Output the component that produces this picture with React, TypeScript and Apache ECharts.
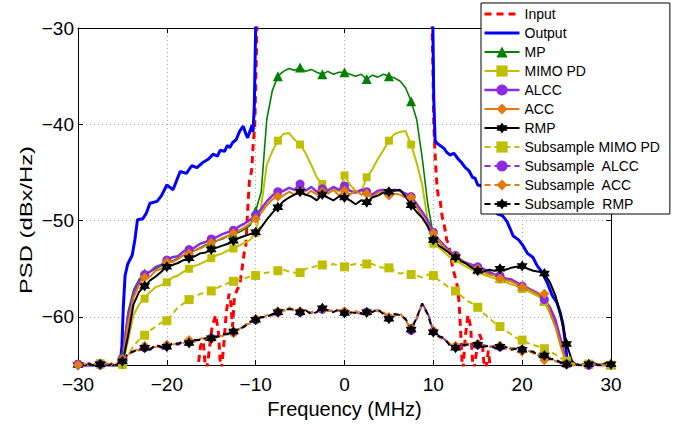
import { useEffect, useRef } from 'react';
import * as echarts from 'echarts';

// Common frequency grid (MHz) for the processed PSD curves
const freqs = [
  -30, -29.375, -28.75, -28.125, -27.5, -26.875, -26.25, -25.625,
  -25, -24.375, -23.75, -23.125, -22.5, -21.875, -21.25, -20.625,
  -20, -19.375, -18.75, -18.125, -17.5, -16.875, -16.25, -15.625,
  -15, -14.375, -13.75, -13.125, -12.5, -11.875, -11.25, -10.625,
  -10, -9.375, -8.75, -8.125, -7.5, -6.875, -6.25, -5.625,
  -5, -4.375, -3.75, -3.125, -2.5, -1.875, -1.25, -0.625,
  0, 0.625, 1.25, 1.875, 2.5, 3.125, 3.75, 4.375,
  5, 5.625, 6.25, 6.875, 7.5, 8.125, 8.75, 9.375,
  10, 10.625, 11.25, 11.875, 12.5, 13.125, 13.75, 14.375,
  15, 15.625, 16.25, 16.875, 17.5, 18.125, 18.75, 19.375,
  20, 20.625, 21.25, 21.875, 22.5, 23.125, 23.75, 24.375,
  25, 25.625, 26.25, 26.875, 27.5, 28.125, 28.75, 29.375,
  30,
];

const inputF = [-30, -16.6, -16.2, -15.9, -15.6, -15.3, -14.9, -14.5, -14.2, -13.9, -13.6, -13.3, -13.0, -12.8, -12.6, -12.4, -12.1, -11.8, -11.5, -11.3, -11.1, -10.9, -10.7, -10.45, -10.3, -10.1, -9.95, -9.8, -9.6, 0, 9.6, 9.8, 9.95, 10.05, 10.15, 10.25, 10.4, 10.55, 10.75, 11.0, 11.2, 11.5, 11.7, 12.0, 12.2, 12.5, 12.7, 12.9, 13.1, 13.3, 13.6, 13.9, 14.2, 14.5, 14.8, 15.2, 15.5, 15.8, 16.2, 16.5, 30];
const inputV = [-66, -66, -63, -62.5, -66, -64, -61, -59.8, -61.5, -66, -63, -59.5, -57.6, -58.5, -61, -58, -57.2, -56.7, -54.8, -53.4, -52.5, -48.9, -45.8, -44.8, -42.4, -40.1, -34, -27, -20, -20, -20, -27, -34, -40, -42.1, -44.1, -46.2, -47.5, -47.8, -49.6, -50.3, -52.0, -52.4, -54.0, -55.0, -56.0, -56.8, -58.5, -62, -66, -62, -59.8, -61, -66, -64, -61.8, -62.5, -66, -63.5, -66, -66];

const outputF = [-30, -27, -25.3, -25.06, -24.9, -24.7, -24.4, -23.9, -23.6, -23.3, -22.7, -22.3, -21.9, -21.1, -20.6, -20.0, -19.3, -18.5, -17.8, -17.2, -16.6, -16.0, -15.3, -14.8, -14.3, -14.0, -13.5, -13.2, -12.9, -12.6, -12.2, -11.8, -11.4, -11.1, -10.9, -10.6, -10.4, -10.3, -10.15, -10.0, -9.9, 0, 9.85, 9.95, 10.05, 10.2, 10.45, 10.75, 11.2, 11.5, 11.9, 12.3, 12.8, 13.2, 13.6, 14.0, 14.4, 14.7, 15.0, 15.5, 16.0, 16.6, 17.2, 17.8, 18.3, 19.0, 19.6, 20.1, 20.6, 21.2, 21.7, 22.2, 22.8, 23.4, 23.9, 24.3, 24.6, 24.9, 25.1, 25.4, 30];
const outputV = [-65.2, -65.3, -65.2, -63.1, -59, -55.7, -54.5, -53.6, -52, -49.9, -49.8, -49.2, -48.2, -48.0, -47.4, -46.3, -46.8, -44.9, -45.1, -44.3, -44.5, -44.0, -43.6, -43.1, -43.3, -42.7, -42.8, -42.2, -42.4, -41.9, -41.6, -40.7, -40.2, -41.0, -41.4, -40.6, -40.1, -40.8, -38, -30, -22, -20, -22, -30, -37.3, -41.7, -42.0, -42.2, -42.5, -42.9, -43.2, -43.0, -43.6, -44.0, -44.5, -44.8, -45.5, -45.6, -46.3, -46.4, -47.2, -48.0, -49.3, -49.5, -50.1, -51.6, -52.0, -52.6, -53.4, -53.8, -54.7, -55.3, -56.4, -57.8, -58.5, -59.6, -60.8, -63, -65, -65.4, -65.3];

const mpV = [
  -65.2, -65.0, -65.3, -64.9, -65.1, -65.2, -65.0, -65.1,
  -64.0, -59.5, -57.2, -56.1, -55.5, -55.3, -55.0, -54.7,
  -54.3, -54.2, -53.9, -53.6, -53.3, -53.1, -52.8, -52.5,
  -52.3, -52.1, -51.9, -51.6, -51.4, -51.2, -50.9, -50.5,
  -49.0, -47.0, -39.5, -36.5, -35.0, -34.5, -34.2, -34.4,
  -34.1, -34.5, -34.3, -34.6, -34.8, -34.5, -34.8, -34.6,
  -34.6, -34.8, -35.0, -34.8, -35.3, -34.9, -35.1, -34.8,
  -35.0, -35.2, -35.5, -36.2, -37.6, -39.5, -43.5, -48.3,
  -51.5, -52.2, -52.8, -53.3, -53.7, -54.2, -54.5, -54.8,
  -55.0, -55.3, -55.5, -55.7, -55.9, -56.1, -56.2, -56.5,
  -56.8, -57.1, -57.4, -57.7, -58.3, -59.4, -60.7, -62.8,
  -64.7, -65.0, -65.2, -64.9, -65.1, -65.0, -65.2, -65.1,
  -64.9,
];

const mimoV = [
  -65.3, -64.9, -65.1, -65.2, -64.8, -65.0, -65.3, -65.1,
  -65.0, -62.5, -59.8, -58.7, -58.1, -57.4, -56.9, -56.7,
  -56.4, -55.9, -55.7, -55.3, -55.0, -54.7, -54.5, -54.2,
  -53.9, -53.6, -53.4, -53.1, -52.9, -52.6, -52.3, -52.0,
  -51.3, -48.5, -44.2, -42.8, -41.7, -41.0, -40.9, -41.6,
  -42.1, -43.0, -44.2, -45.5, -46.2, -46.8, -46.6, -47.0,
  -45.3, -46.3, -46.9, -47.0, -45.5, -44.7, -43.6, -42.7,
  -41.7, -41.0, -40.8, -40.7, -42.1, -44.0, -46.3, -50.0,
  -52.4, -52.8, -53.3, -53.8, -54.0, -54.5, -54.8, -55.1,
  -55.2, -55.6, -55.8, -56.0, -56.1, -56.4, -56.6, -56.8,
  -57.1, -57.3, -57.6, -57.9, -58.4, -59.6, -61.0, -63.2,
  -64.9, -65.1, -65.3, -64.9, -65.0, -65.2, -65.0, -64.8,
  -65.1,
];

const alccV = [
  -64.9, -65.2, -64.8, -65.3, -65.0, -64.8, -65.2, -64.9,
  -64.3, -60.0, -57.6, -56.3, -55.6, -55.3, -54.8, -54.6,
  -54.1, -53.8, -53.7, -53.2, -53.0, -52.8, -52.4, -52.2,
  -51.9, -51.7, -51.4, -51.2, -51.0, -50.6, -50.3, -49.9,
  -49.4, -48.8, -48.0, -47.4, -47.0, -46.9, -46.6, -46.8,
  -46.2, -46.9, -46.5, -47.0, -46.7, -46.9, -46.5, -46.8,
  -46.4, -46.9, -47.1, -46.8, -47.0, -47.3, -46.9, -46.8,
  -47.1, -46.8, -46.9, -47.2, -47.5, -48.3, -49.1, -50.0,
  -51.2, -52.0, -52.6, -53.2, -53.6, -54.1, -54.4, -54.6,
  -54.8, -55.0, -55.3, -55.6, -55.7, -56.0, -56.1, -56.4,
  -56.8, -57.0, -57.3, -57.6, -58.2, -59.0, -60.3, -62.5,
  -64.8, -65.2, -64.9, -65.3, -65.0, -64.8, -65.2, -64.9,
  -65.1,
];

const accV = [
  -65.1, -64.8, -65.2, -64.9, -65.0, -65.3, -64.8, -65.1,
  -64.6, -60.8, -58.0, -56.7, -55.9, -55.8, -55.2, -55.0,
  -54.3, -54.3, -54.0, -53.6, -53.4, -53.1, -52.9, -52.6,
  -52.3, -52.1, -51.8, -51.6, -51.3, -51.0, -50.7, -50.3,
  -49.8, -49.2, -48.4, -47.8, -47.5, -47.4, -47.0, -47.3,
  -47.0, -47.4, -46.9, -47.3, -47.0, -47.2, -46.8, -47.4,
  -46.9, -47.3, -46.9, -47.3, -47.2, -47.6, -47.1, -47.0,
  -47.4, -47.2, -47.3, -47.6, -47.6, -48.6, -49.6, -50.4,
  -51.3, -52.1, -52.8, -53.3, -53.7, -54.1, -54.5, -54.8,
  -55.0, -55.3, -55.6, -55.7, -56.0, -56.2, -56.3, -56.6,
  -56.9, -57.1, -57.4, -57.7, -57.6, -59.5, -61.0, -63.0,
  -64.8, -65.0, -65.2, -64.9, -65.1, -65.3, -64.9, -65.0,
  -65.2,
];

const rmpV = [
  -65.0, -65.2, -64.9, -65.1, -64.9, -64.9, -65.1, -65.0,
  -64.8, -62.0, -58.7, -57.4, -56.8, -56.2, -55.8, -55.3,
  -54.8, -54.6, -54.4, -54.1, -53.9, -53.7, -53.4, -53.3,
  -53.0, -52.8, -52.6, -52.4, -52.1, -51.8, -51.6, -51.4,
  -51.2, -50.7, -49.9, -49.2, -48.6, -48.0, -47.6, -47.3,
  -47.0, -47.3, -47.5, -47.9, -47.3, -47.6, -47.9, -47.5,
  -47.6, -47.9, -48.3, -47.9, -48.1, -47.6, -47.4, -47.1,
  -47.0, -46.9, -46.8, -47.5, -48.4, -49.1, -49.7, -50.6,
  -52.0, -52.6, -53.0, -53.4, -53.8, -54.2, -54.5, -54.9,
  -55.2, -55.3, -55.1, -55.2, -55.0, -55.1, -54.9, -54.8,
  -54.7, -55.0, -55.2, -55.3, -55.5, -56.4, -57.8, -60.0,
  -62.8, -64.6, -65.1, -64.9, -65.2, -65.0, -65.1, -64.8,
  -65.2,
];

const subMimoV = [
  -65.1, -65.2, -64.9, -65.0, -64.9, -65.2, -65.0, -64.9,
  -64.8, -64.0, -63.0, -62.4, -61.9, -61.4, -61.0, -60.6,
  -60.4, -59.7, -59.0, -58.6, -58.2, -57.9, -57.6, -57.5,
  -57.3, -57.0, -56.7, -56.5, -56.3, -56.1, -56.0, -55.8,
  -55.7, -55.5, -55.4, -55.3, -55.2, -55.1, -55.3, -55.4,
  -55.4, -55.0, -54.9, -54.7, -54.6, -54.7, -54.5, -54.7,
  -54.8, -54.6, -54.5, -54.6, -54.5, -54.5, -54.8, -54.9,
  -54.9, -55.2, -55.5, -55.4, -55.6, -55.7, -55.9, -55.6,
  -55.7, -56.2, -56.6, -57.0, -57.3, -57.8, -58.3, -58.6,
  -59.0, -59.6, -60.1, -60.6, -61.0, -61.4, -61.8, -62.2,
  -62.4, -62.7, -62.9, -63.1, -63.3, -63.6, -63.9, -64.3,
  -64.6, -64.8, -64.9, -65.0, -64.9, -65.1, -65.0, -65.0,
  -65.0,
];

const subAlccV = [
  -64.9, -65.1, -64.8, -65.2, -64.9, -65.0, -65.2, -65.1,
  -64.5, -63.9, -63.5, -63.4, -63.2, -63.3, -63.0, -63.2,
  -63.0, -62.8, -62.9, -62.6, -62.6, -62.5, -62.3, -62.4,
  -62.2, -62.0, -61.9, -61.7, -61.6, -61.2, -60.9, -60.6,
  -60.3, -60.1, -59.9, -59.8, -59.5, -59.3, -59.1, -59.3,
  -59.5, -59.4, -59.6, -59.4, -59.2, -59.3, -59.4, -59.3,
  -59.5, -59.6, -59.5, -59.7, -59.5, -59.4, -59.3, -59.6,
  -60.1, -59.8, -59.7, -60.3, -61.4, -60.2, -58.6, -59.6,
  -61.5, -62.0, -62.3, -62.9, -63.1, -63.0, -62.8, -63.0,
  -62.9, -62.9, -63.1, -63.0, -63.1, -63.2, -63.3, -63.2,
  -63.4, -63.5, -63.7, -64.0, -64.1, -64.3, -64.5, -64.7,
  -64.9, -65.1, -64.9, -65.2, -65.0, -64.8, -65.1, -65.0,
  -65.2,
];

const subAccV = [
  -65.0, -64.8, -65.2, -64.9, -65.1, -64.8, -65.0, -65.2,
  -64.4, -64.0, -63.3, -63.5, -63.0, -63.2, -63.1, -63.0,
  -62.9, -62.9, -62.7, -62.7, -62.4, -62.6, -62.2, -62.3,
  -62.3, -61.9, -62.0, -61.6, -61.7, -61.3, -60.8, -60.7,
  -60.2, -60.2, -59.8, -59.9, -59.4, -59.4, -59.0, -59.4,
  -59.4, -59.5, -59.5, -59.3, -59.1, -59.4, -59.3, -59.4,
  -59.4, -59.7, -59.4, -59.6, -59.6, -59.3, -59.4, -59.5,
  -60.0, -59.9, -59.6, -60.4, -61.2, -60.0, -58.7, -59.8,
  -61.4, -62.1, -62.4, -62.8, -63.0, -63.1, -62.7, -63.1,
  -62.8, -63.0, -63.0, -63.1, -63.0, -63.3, -63.2, -63.3,
  -63.6, -63.4, -63.8, -63.9, -64.5, -64.2, -64.6, -64.8,
  -64.9, -65.0, -65.1, -64.9, -65.2, -65.0, -64.8, -65.1,
  -65.0,
];

const subRmpV = [
  -65.1, -65.0, -64.9, -65.1, -64.9, -65.2, -64.9, -65.0,
  -64.6, -63.8, -63.6, -63.3, -63.2, -63.4, -62.9, -63.1,
  -63.1, -62.7, -62.8, -62.5, -62.7, -62.4, -62.4, -62.2,
  -62.2, -62.1, -61.8, -61.8, -61.5, -61.3, -61.0, -60.5,
  -60.3, -60.0, -60.0, -59.7, -59.5, -59.2, -59.2, -59.2,
  -59.5, -59.3, -59.7, -59.5, -59.1, -59.3, -59.5, -59.2,
  -59.6, -59.5, -59.6, -59.6, -59.5, -59.5, -59.2, -59.7,
  -60.2, -59.7, -59.8, -60.2, -61.3, -60.1, -58.6, -59.7,
  -61.6, -62.0, -62.2, -63.0, -63.2, -62.9, -62.9, -62.9,
  -62.9, -63.1, -63.0, -63.2, -63.1, -63.1, -63.4, -63.3,
  -63.4, -63.6, -63.6, -64.1, -64.0, -64.4, -64.4, -64.8,
  -64.9, -65.0, -65.0, -65.1, -64.9, -64.9, -65.0, -65.2,
  -64.9,
];

const xTicks = [-30, -20, -10, 0, 10, 20, 30];
const yTicks = [-60, -50, -40, -30];

const FONT = '"Liberation Sans", Arial, Helvetica, sans-serif';
const STAR = 'path://M100 0L128.87 50L186.6 50L157.7 100L186.6 150L128.87 150L100 200L71.13 150L13.4 150L42.3 100L13.4 50L71.13 50Z';

const fmtMinus = (v: number) => (v < 0 ? '\u2212' + Math.abs(v) : String(v));

function curve(name: string, fs: number[], vs: number[], color: string, width: number, dash: number[] | null, symbol: string, size: number, markEvery: number) {
  const hasMark = markEvery > 0;
  return {
    name,
    type: 'line',
    xAxisIndex: 0,
    yAxisIndex: 0,
    symbol: hasMark ? symbol : 'circle',
    symbolSize: size,
    showSymbol: hasMark,
    data: fs.map((f, i) => ({
      value: [f, vs[i]],
      symbol: hasMark && i % markEvery === 0 ? symbol : 'none',
    })),
    lineStyle: { color, width, type: dash ? dash : 'solid' },
    itemStyle: { color },
    emphasis: { disabled: true },
    silent: true,
    clip: true,
  };
}

const series = [
  curve('Input', inputF, inputV, '#ff0000', 3, [7, 5], 'none', 0, 0),
  curve('Output', outputF, outputV, '#0000ff', 3, null, 'none', 0, 0),
  curve('MP', freqs, mpV, '#008000', 1.6, null, 'triangle', 10, 4),
  curve('MIMO PD', freqs, mimoV, '#bfbf00', 2, null, 'rect', 8, 4),
  curve('ALCC', freqs, alccV, '#8a2be2', 2.5, null, 'circle', 9, 4),
  curve('ACC', freqs, accV, '#e07b0c', 2, null, 'diamond', 10, 4),
  curve('RMP', freqs, rmpV, '#000000', 2, null, STAR, 11, 4),
  curve('Subsample MIMO PD', freqs, subMimoV, '#bfbf00', 2, [6, 4], 'rect', 9, 4),
  curve('Subsample  ALCC', freqs, subAlccV, '#8a2be2', 2, [6, 4], 'circle', 9, 4),
  curve('Subsample  ACC', freqs, subAccV, '#e07b0c', 2, [6, 4], 'diamond', 10, 4),
  curve('Subsample  RMP', freqs, subRmpV, '#000000', 2, [6, 4], STAR, 11, 4),
];

const lineOnly = ['Input', 'Output'];

const option: any = {
  animation: false,
  backgroundColor: '#ffffff',
  textStyle: { fontFamily: FONT },
  grid: { left: 78, right: 75, top: 28, bottom: 53, show: false },
  legend: {
    orient: 'vertical',
    left: 481,
    top: 3,
    padding: [4, 10, 3, 2],
    itemWidth: 35,
    itemHeight: 14,
    itemGap: 5,
    itemTextGap: 4,
    selectedMode: false,
    backgroundColor: '#ffffff',
    borderColor: '#000000',
    borderWidth: 1,
    textStyle: { fontSize: 14, color: '#000', fontFamily: FONT, lineHeight: 14 },
    data: series.map((s: any) =>
      lineOnly.includes(s.name)
        ? { name: s.name, itemStyle: { opacity: 0, borderWidth: 0 }, lineStyle: { width: 3 } }
        : { name: s.name, lineStyle: { width: Math.max(2, s.lineStyle.width) } }
    ),
  },
  xAxis: [
    {
      type: 'value',
      min: -30,
      max: 30,
      interval: 10,
      position: 'bottom',
      name: 'Frequency (MHz)',
      nameLocation: 'middle',
      nameGap: 27,
      nameTextStyle: { fontSize: 20, color: '#000', fontFamily: FONT },
      axisLine: { show: true, onZero: false, lineStyle: { color: '#000', width: 1 } },
      axisTick: { show: true, inside: true, length: 5, lineStyle: { color: '#000' } },
      axisLabel: { show: true, margin: 10, fontSize: 19, color: '#000', fontFamily: FONT, formatter: (v: number) => (xTicks.includes(v) ? fmtMinus(v) : '') },
      splitLine: { show: true, lineStyle: { color: '#a8a8a8', type: [1, 3], width: 1 } },
    },
    {
      type: 'value',
      min: -30,
      max: 30,
      interval: 10,
      position: 'top',
      axisLine: { show: true, onZero: false, lineStyle: { color: '#000', width: 1 } },
      axisTick: { show: true, inside: true, length: 5, lineStyle: { color: '#000' } },
      axisLabel: { show: false },
      splitLine: { show: false },
    },
  ],
  yAxis: [
    {
      type: 'value',
      min: -65,
      max: -30,
      position: 'left',
      axisLine: { show: true, onZero: false, lineStyle: { color: '#000', width: 1 } },
      axisTick: { show: true, inside: true, length: 5, lineStyle: { color: '#000' }, customValues: yTicks },
      axisLabel: { show: true, margin: 4, fontSize: 19, color: '#000', fontFamily: FONT, customValues: yTicks, formatter: (v: number) => (yTicks.includes(v) ? fmtMinus(v) : '') },
      splitLine: { show: true, lineStyle: { color: '#a8a8a8', type: [1, 3], width: 1 } },
    },
    {
      type: 'value',
      min: -65,
      max: -30,
      position: 'right',
      axisLine: { show: true, onZero: false, lineStyle: { color: '#000', width: 1 } },
      axisTick: { show: true, inside: true, length: 5, lineStyle: { color: '#000' }, customValues: yTicks },
      axisLabel: { show: false },
      splitLine: { show: false },
    },
  ],
  graphic: [
    {
      type: 'text',
      x: 26,
      y: 220,
      rotation: Math.PI / 2,
      scaleX: 1.4,
      silent: true,
      style: {
        text: 'PSD (dBx/Hz)',
        fill: '#000',
        fontSize: 17,
        fontFamily: FONT,
        textAlign: 'center',
        textVerticalAlign: 'middle',
        verticalAlign: 'middle',
      },
    },
  ],
  series,
};

export default function App() {
  const ref = useRef<HTMLDivElement>(null);
  useEffect(() => {
    if (!ref.current) return;
    const chart = echarts.init(ref.current, undefined, { renderer: 'svg' });
    chart.setOption(option);
    return () => chart.dispose();
  }, []);
  return (
    <div
      ref={ref}
      style={{ position: 'absolute', left: 0, top: 0, width: 686, height: 424, background: '#fff' }}
    />
  );
}
